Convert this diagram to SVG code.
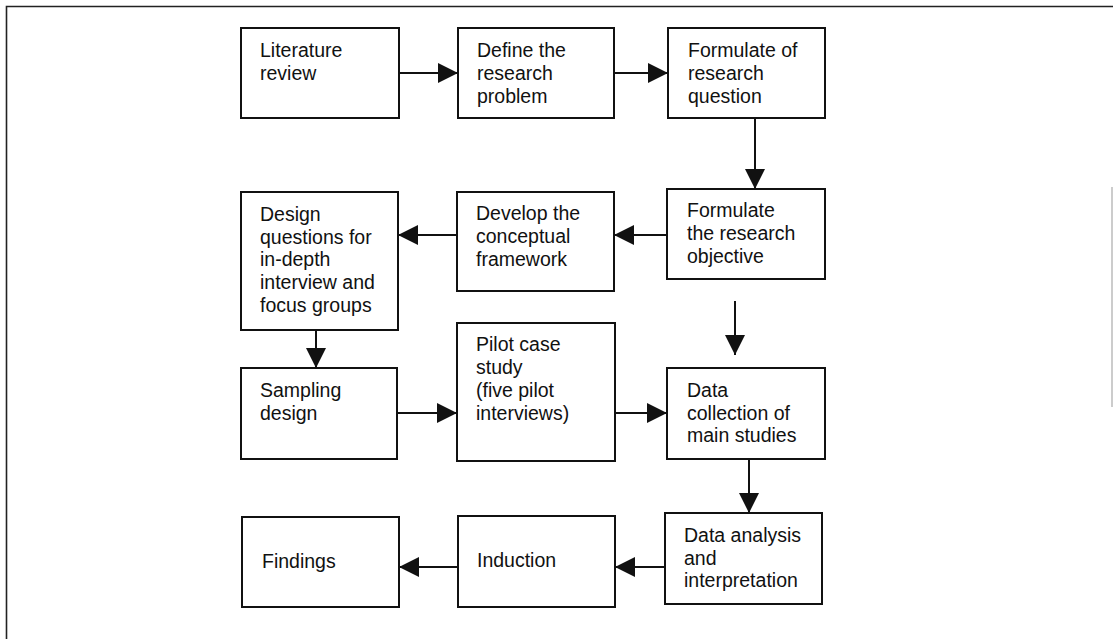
<svg xmlns="http://www.w3.org/2000/svg" width="1113" height="639" viewBox="0 0 1113 639">
<style>
.box{fill:#fff;stroke:#111;stroke-width:2}
.lbl{font-family:"Liberation Sans",Arial,sans-serif;font-size:19.5px;fill:#111}
.con{stroke:#111;stroke-width:2;fill:none;marker-end:url(#ah)}
.frame{stroke:#222;stroke-width:1.6;fill:none}
</style>
<defs>
<marker id="ah" viewBox="0 0 20 20" refX="20" refY="10" markerWidth="20" markerHeight="20" markerUnits="userSpaceOnUse" orient="auto">
<path d="M0,0 L20,10 L0,20 z" fill="#111"/>
</marker>
</defs>
<rect width="1113" height="639" fill="#fff"/>
<g id="frame">
<path class="frame" d="M6.5,639 L6.5,6.5 L1113,6.5"/>
<line x1="1112" y1="187" x2="1112" y2="407" stroke="#aaa" stroke-width="1.2"/>
</g>
<g id="n-literature"><rect class="box" x="241" y="28" width="158" height="90"/>
<text class="lbl" x="260" y="57">Literature<tspan x="260" dy="23">review</tspan></text></g>
<g id="n-define"><rect class="box" x="458" y="28" width="156" height="90"/>
<text class="lbl" x="477" y="57">Define the<tspan x="477" dy="23">research</tspan><tspan x="477" dy="23">problem</tspan></text></g>
<g id="n-question"><rect class="box" x="668" y="28" width="157" height="90"/>
<text class="lbl" x="688" y="57">Formulate of<tspan x="688" dy="23">research</tspan><tspan x="688" dy="23">question</tspan></text></g>
<g id="n-objective"><rect class="box" x="667" y="189" width="158" height="90"/>
<text class="lbl" x="687" y="217">Formulate<tspan x="687" dy="23">the research</tspan><tspan x="687" dy="23">objective</tspan></text></g>
<g id="n-develop"><rect class="box" x="457" y="192" width="157" height="99"/>
<text class="lbl" x="476" y="220">Develop the<tspan x="476" dy="23">conceptual</tspan><tspan x="476" dy="23">framework</tspan></text></g>
<g id="n-design"><rect class="box" x="241" y="192" width="157" height="138"/>
<text class="lbl" x="260" y="221">Design<tspan x="260" dy="22.7">questions for</tspan><tspan x="260" dy="22.7">in-depth</tspan><tspan x="260" dy="22.7">interview and</tspan><tspan x="260" dy="22.7">focus groups</tspan></text></g>
<g id="n-sampling"><rect class="box" x="241" y="368" width="156" height="91"/>
<text class="lbl" x="260" y="397">Sampling<tspan x="260" dy="23">design</tspan></text></g>
<g id="n-pilot"><rect class="box" x="457" y="323" width="158" height="138"/>
<text class="lbl" x="476" y="351">Pilot case<tspan x="476" dy="23">study</tspan><tspan x="476" dy="23">(five pilot</tspan><tspan x="476" dy="23">interviews)</tspan></text></g>
<g id="n-collection"><rect class="box" x="667" y="368" width="158" height="91"/>
<text class="lbl" x="687" y="397">Data<tspan x="687" dy="22.5">collection of</tspan><tspan x="687" dy="22.5">main studies</tspan></text></g>
<g id="n-analysis"><rect class="box" x="665" y="513" width="157" height="91"/>
<text class="lbl" x="684" y="542">Data analysis<tspan x="684" dy="22.5">and</tspan><tspan x="684" dy="22.5">interpretation</tspan></text></g>
<g id="n-induction"><rect class="box" x="458" y="516" width="157" height="91"/>
<text class="lbl" x="477" y="567">Induction</text></g>
<g id="n-findings"><rect class="box" x="242" y="517" width="157" height="90"/>
<text class="lbl" x="262" y="568">Findings</text></g>
<g id="connectors">
<line class="con" x1="399" y1="73" x2="458" y2="73"/>
<line class="con" x1="614" y1="73" x2="668" y2="73"/>
<line class="con" x1="755" y1="118" x2="755" y2="189"/>
<line class="con" x1="667" y1="235" x2="614" y2="235"/>
<line class="con" x1="457" y1="235" x2="398" y2="235"/>
<line class="con" x1="316" y1="330" x2="316" y2="368"/>
<line class="con" x1="397" y1="413" x2="457" y2="413"/>
<line class="con" x1="615" y1="413" x2="667" y2="413"/>
<line class="con" x1="735" y1="301" x2="735" y2="355"/>
<line class="con" x1="749" y1="459" x2="749" y2="513"/>
<line class="con" x1="665" y1="567" x2="615" y2="567"/>
<line class="con" x1="458" y1="567" x2="399" y2="567"/>
</g>
</svg>
